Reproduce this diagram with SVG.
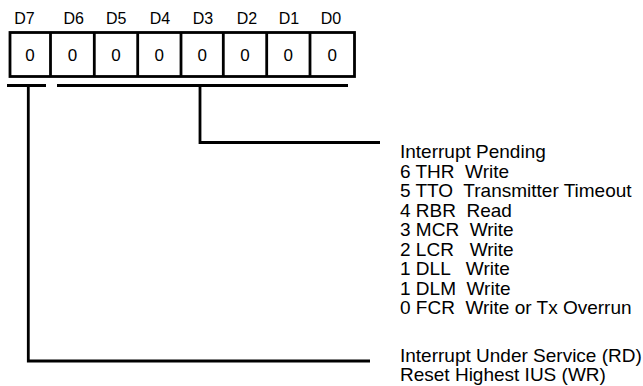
<svg xmlns="http://www.w3.org/2000/svg" width="643" height="386" viewBox="0 0 643 386">
<style>
.ln{stroke:#000;stroke-width:2.8;fill:none}
.lbl{font-family:"Liberation Sans",Arial,sans-serif;font-size:16px;fill:#000;text-anchor:middle}
.bit{font-family:"Liberation Sans",Arial,sans-serif;font-size:17px;fill:#000;text-anchor:middle}
.txt{font-family:"Liberation Sans",Arial,sans-serif;font-size:19px;fill:#000;white-space:pre}
</style>
<rect width="643" height="386" fill="#fff"/>
<g id="register">
<rect class="ln" x="10" y="32.5" width="344.5" height="44"/>
<line class="ln" x1="50.5" y1="32.5" x2="50.5" y2="76.5"/>
<line class="ln" x1="94.3" y1="32.5" x2="94.3" y2="76.5"/>
<line class="ln" x1="137.7" y1="32.5" x2="137.7" y2="76.5"/>
<line class="ln" x1="181" y1="32.5" x2="181" y2="76.5"/>
<line class="ln" x1="223.3" y1="32.5" x2="223.3" y2="76.5"/>
<line class="ln" x1="266.7" y1="32.5" x2="266.7" y2="76.5"/>
<line class="ln" x1="310" y1="32.5" x2="310" y2="76.5"/>
<text class="lbl" x="24.5" y="24">D7</text>
<text class="lbl" x="73.7" y="24">D6</text>
<text class="lbl" x="116.3" y="24">D5</text>
<text class="lbl" x="160" y="24">D4</text>
<text class="lbl" x="203" y="24">D3</text>
<text class="lbl" x="247" y="24">D2</text>
<text class="lbl" x="289" y="24">D1</text>
<text class="lbl" x="331" y="24">D0</text>
<text class="bit" x="30" y="60.5">0</text>
<text class="bit" x="72.4" y="60.5">0</text>
<text class="bit" x="116" y="60.5">0</text>
<text class="bit" x="159.3" y="60.5">0</text>
<text class="bit" x="202.2" y="60.5">0</text>
<text class="bit" x="245" y="60.5">0</text>
<text class="bit" x="288.3" y="60.5">0</text>
<text class="bit" x="332.3" y="60.5">0</text>
</g>
<g id="connectors">
<line class="ln" x1="7" y1="85.5" x2="46" y2="85.5"/>
<line class="ln" x1="57" y1="85.5" x2="348" y2="85.5"/>
<polyline class="ln" points="200,85.5 200,142.5 380,142.5"/>
<polyline class="ln" points="28.3,85.5 28.3,361 370,361"/>
</g>
<g id="interrupt-pending">
<text class="txt" x="400" y="158">Interrupt Pending</text>
<text class="txt" x="400" y="177.5">6 THR  Write</text>
<text class="txt" x="400" y="197">5 TTO  Transmitter Timeout</text>
<text class="txt" x="400" y="216.5">4 RBR  Read</text>
<text class="txt" x="400" y="236">3 MCR  Write</text>
<text class="txt" x="400" y="255.5">2 LCR   Write</text>
<text class="txt" x="400" y="275">1 DLL   Write</text>
<text class="txt" x="400" y="294.5">1 DLM  Write</text>
<text class="txt" x="400" y="314">0 FCR  Write or Tx Overrun</text>
</g>
<g id="interrupt-under-service">
<text class="txt" x="400" y="362">Interrupt Under Service (RD)</text>
<text class="txt" x="400" y="381">Reset Highest IUS (WR)</text>
</g>
</svg>
